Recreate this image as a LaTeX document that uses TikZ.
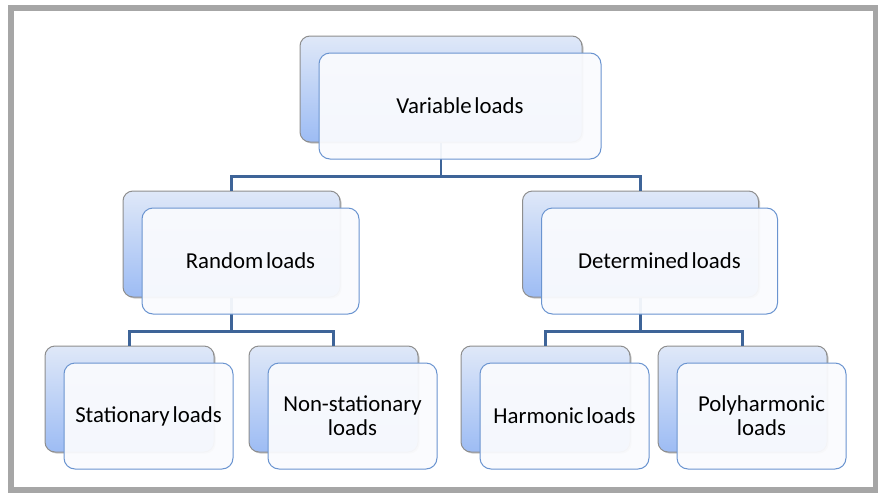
\documentclass[tikz,border=0pt]{standalone}
\usepackage{fontspec}
\setmainfont{Carlito}[WordSpace=0.55]
\usetikzlibrary{shadows,calc}
\definecolor{frameGray}{HTML}{A6A6A6}
\definecolor{backTop}{HTML}{DFE8F8}
\definecolor{backBot}{HTML}{9DBCF4}
\definecolor{backLine}{HTML}{8E8E8E}
\definecolor{frontFill}{HTML}{FAFBFE}
\definecolor{frontLine}{HTML}{6A94D0}
\definecolor{linkBlue}{HTML}{3E6498}
\tikzset{
  backbox/.style={rectangle, rounded corners=10pt, draw=backLine, line width=1pt,
    top color=backTop, bottom color=backBot, inner sep=0pt,
    drop shadow={shadow xshift=1.5pt, shadow yshift=-1.5pt, opacity=0.35, fill=black!60}},
  frontbox/.style={rectangle, rounded corners=11pt, draw=frontLine, line width=1pt,
    fill=frontFill, fill opacity=0.94, text opacity=1, inner sep=0pt, align=center,
    font=\fontsize{22.8}{24}\selectfont, text=black},
  link/.style={draw=linkBlue, line width=2.6pt}
}
\newcommand{\loadbox}[6]{%
  \node[backbox, minimum width=#4pt, minimum height=#5pt] (#1b) at (#2,#3) {};
}
\newcommand{\loadfront}[6]{%
  \node[frontbox, minimum width=#4pt, minimum height=#5pt] (#1) at ($(#2,#3)+(19,17)$) {#6};
}
\begin{document}
\begin{tikzpicture}[x=1pt,y=-1pt]
\useasboundingbox (0,0) rectangle (878,493);
\fill[white] (0,0) rectangle (878,493);
\draw[frameGray, line width=6pt] (11,8) rectangle (876,490);
% back boxes
\loadbox{v}{441}{89}{282}{106}{Variable loads}
\loadbox{r}{231.5}{244}{217}{106}{Random loads}
\loadbox{d}{640.5}{244}{236}{106}{Determined loads}
\loadbox{s}{129.5}{399}{169}{106}{Stationary loads}
\loadbox{n}{333.5}{399}{169}{106}{Non-stationary\\loads}
\loadbox{h}{545.5}{399}{169}{106}{Harmonic loads}
\loadbox{p}{742.5}{399}{169}{106}{Polyharmonic\\loads}
% connectors
\draw[link] (vb.south) -- ++(0,34) coordinate (vj) -| (rb.north);
\draw[link] (vj) -| (db.north);
\draw[link] (rb.south) -- ++(0,34) coordinate (rj) -| (sb.north);
\draw[link] (rj) -| (nb.north);
\draw[link] (db.south) -- ++(0,34) coordinate (dj) -| (hb.north);
\draw[link] (dj) -| (pb.north);
% front boxes
\loadfront{v}{441}{89}{282}{106}{Variable loads}
\loadfront{r}{231.5}{244}{217}{106}{Random loads}
\loadfront{d}{640.5}{244}{236}{106}{Determined loads}
\loadfront{s}{129.5}{399}{169}{106}{Stationary loads}
\loadfront{n}{333.5}{399}{169}{106}{Non-stationary\\loads}
\loadfront{h}{545.5}{399}{169}{106}{Harmonic loads}
\loadfront{p}{742.5}{399}{169}{106}{Polyharmonic\\loads}
\end{tikzpicture}
\end{document}
